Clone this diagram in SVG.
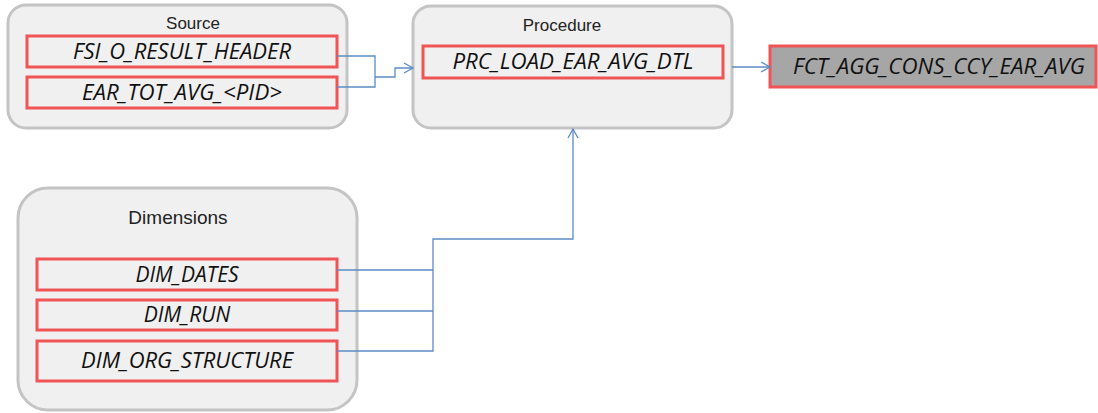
<svg xmlns="http://www.w3.org/2000/svg" width="1098" height="413" viewBox="0 0 1098 413">
<defs>
<style>
.cont{fill:#f0f0f0;stroke:#c4c4c4;stroke-width:3}
.box{fill:#f0f0f0;stroke:#f05454;stroke-width:3}
.boxd{fill:#a6a6a6;stroke:#f05454;stroke-width:3}
.title{font-family:"Liberation Sans",Arial,sans-serif;font-size:17px;fill:#222;text-anchor:middle}
.lbl{font-family:"Open Sans","Liberation Sans",sans-serif;font-style:italic;font-size:21px;fill:#111;text-anchor:middle}
.conn{fill:none;stroke:#5b8cc2;stroke-width:1.3}
</style>
<marker id="arr" markerWidth="12" markerHeight="12" refX="10" refY="6" orient="auto" markerUnits="userSpaceOnUse">
<path d="M1,1 L10,6 L1,11" fill="none" stroke="#5b8cc2" stroke-width="1.3"/>
</marker>
</defs>
<rect width="1098" height="413" fill="#ffffff"/>
<g id="source">
<rect class="cont" x="8" y="5" width="339" height="123" rx="18"/>
<text class="title" x="193" y="29">Source</text>
</g>
<g id="fsi_o_result_header">
<rect class="box" x="27" y="36" width="310" height="31"/>
<text class="lbl" x="182" y="59" textLength="218" lengthAdjust="spacingAndGlyphs">FSI_O_RESULT_HEADER</text>
</g>
<g id="ear_tot_avg">
<rect class="box" x="27" y="77" width="310" height="31"/>
<text class="lbl" x="182" y="100" textLength="200" lengthAdjust="spacingAndGlyphs">EAR_TOT_AVG_&lt;PID&gt;</text>
</g>
<g id="procedure">
<rect class="cont" x="413" y="6" width="319" height="122" rx="18"/>
<text class="title" x="562" y="31">Procedure</text>
</g>
<g id="prc_load_ear_avg_dtl">
<rect class="box" x="423" y="46" width="300" height="32"/>
<text class="lbl" x="573" y="69" textLength="241" lengthAdjust="spacingAndGlyphs">PRC_LOAD_EAR_AVG_DTL</text>
</g>
<g id="fct_agg_cons_ccy_ear_avg">
<rect class="boxd" x="770" y="46" width="326" height="41"/>
<text class="lbl" x="939" y="74" textLength="292" lengthAdjust="spacingAndGlyphs">FCT_AGG_CONS_CCY_EAR_AVG</text>
</g>
<g id="dimensions">
<rect class="cont" x="18" y="188" width="339" height="222" rx="30"/>
<text class="title" x="178" y="224" style="font-size:19px">Dimensions</text>
</g>
<g id="dim_dates">
<rect class="box" x="37" y="259" width="300" height="31"/>
<text class="lbl" x="187" y="282">DIM_DATES</text>
</g>
<g id="dim_run">
<rect class="box" x="37" y="300" width="300" height="30"/>
<text class="lbl" x="187" y="322">DIM_RUN</text>
</g>
<g id="dim_org_structure">
<rect class="box" x="37" y="341" width="300" height="40"/>
<text class="lbl" x="187" y="368" textLength="212" lengthAdjust="spacingAndGlyphs">DIM_ORG_STRUCTURE</text>
</g>
<g id="connectors">
<path class="conn" d="M337,56 H375 V87 H337"/>
<path class="conn" d="M375,77 H395 V68 H413" marker-end="url(#arr)"/>
<path class="conn" d="M732,67 H770" marker-end="url(#arr)"/>
<path class="conn" d="M337,270 H433 M337,311 H433 M337,351 H433 V239 H573 V129" marker-end="url(#arr)"/>
</g>
</svg>
